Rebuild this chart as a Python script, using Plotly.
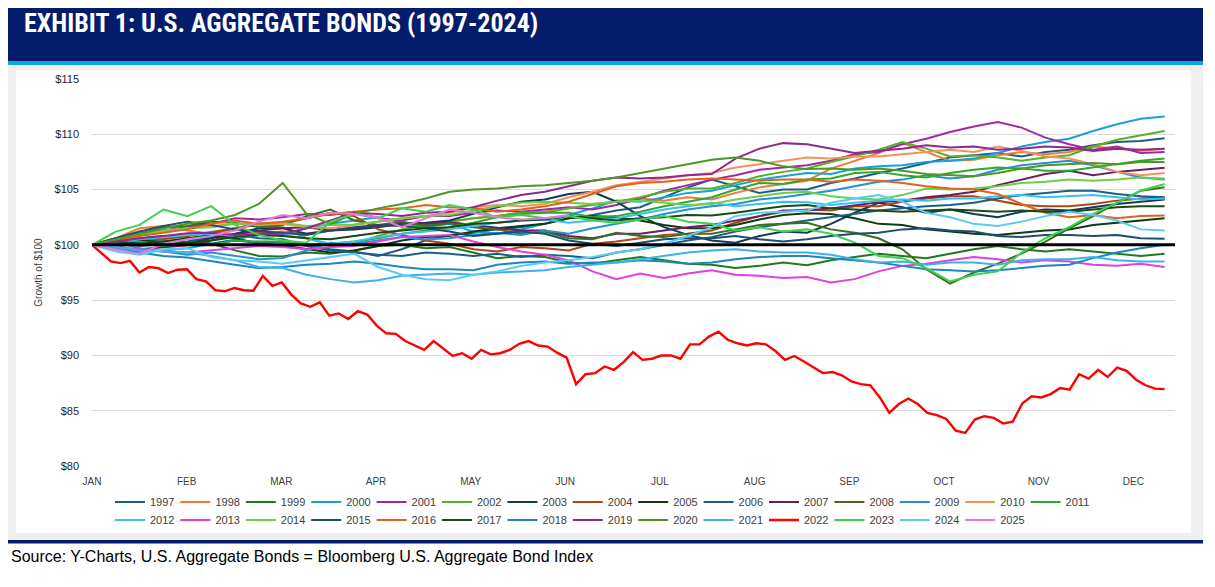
import numpy as np
import plotly.graph_objects as go

# ---------------- data ----------------
MONTHS = ["JAN", "FEB", "MAR", "APR", "MAY", "JUN", "JUL", "AUG", "SEP", "OCT", "NOV", "DEC"]
Y_TICKS = [80, 85, 90, 95, 100, 105, 110, 115]
Y_TICK_LABELS = ["$" + str(v) for v in Y_TICKS]
BASELINE = 100
YEARS = list(range(1997, 2026))

Y1997 = [100.0,100.2,99.9,100.1,100.3,100.7,100.9,100.6,100.5,99.9,99.6,99.4,99.0,99.6,100.4,100.9,101.1,101.4,101.6,101.9,102.4,102.7,103.1,103.4,104.3,105.2,105.9,105.3,104.7,105.0,105.0,105.6,106.0,106.5,106.9,107.4,107.9,108.1,108.3,108.0,108.4,108.6,109.0,109.3,109.4,109.65]
Y1998 = [100.0,100.6,101.5,101.7,101.3,101.0,101.4,101.1,101.2,101.0,101.3,101.55,101.7,101.8,101.9,102.1,102.4,102.6,102.9,103.0,103.3,103.7,103.9,104.2,104.0,104.3,104.1,104.7,105.2,105.5,105.8,106.9,107.6,108.3,109.2,108.4,107.6,107.7,108.1,108.4,108.2,108.4,108.9,108.7,108.5,108.7]
Y1999 = [100.0,100.3,100.6,100.8,100.7,100.1,99.5,99.0,98.95,99.3,99.2,99.5,99.9,100.0,99.7,99.8,99.3,98.8,99.0,98.9,98.4,98.3,98.6,98.9,98.6,98.3,98.2,97.9,98.1,98.4,98.15,98.6,98.9,99.2,99.0,98.8,99.2,99.6,99.9,99.6,99.4,99.6,99.4,99.2,99.0,99.2]
Y2000 = [100.0,99.6,99.4,99.5,99.7,100.1,100.5,100.9,100.9,101.5,101.9,102.2,102.5,102.0,101.6,101.9,101.2,101.0,101.4,101.9,102.7,103.3,104.0,103.9,104.3,104.7,104.9,105.4,105.9,106.2,106.5,106.4,106.9,107.1,107.2,107.5,107.6,107.8,108.3,108.9,109.3,109.6,110.3,110.9,111.4,111.6]
Y2001 = [100.0,100.6,101.0,101.3,101.6,101.9,102.4,102.3,102.5,102.8,102.7,103.0,102.4,102.2,102.6,102.6,102.9,103.1,103.0,103.2,103.4,103.2,103.6,104.2,104.9,105.4,105.9,106.3,106.8,107.0,107.2,107.6,108.2,108.4,109.1,109.6,110.2,110.7,111.1,110.6,109.7,109.1,108.6,108.9,108.3,108.4]
Y2002 = [100.0,100.3,100.5,100.6,100.85,101.2,101.5,101.8,101.6,100.6,100.0,100.1,100.8,101.4,101.8,102.1,102.4,102.6,102.9,102.9,103.3,103.6,103.9,104.3,104.8,105.1,105.1,105.6,106.2,106.6,106.9,107.5,108.0,108.6,109.3,108.7,108.0,108.1,107.9,107.6,107.9,108.1,108.9,109.5,109.9,110.3]
Y2003 = [100.0,99.8,100.2,100.0,100.1,100.6,101.0,101.5,101.5,101.0,101.3,101.4,101.6,101.9,102.0,102.2,102.8,103.4,103.9,104.1,104.6,104.8,103.9,102.6,101.6,100.9,100.4,100.2,100.8,101.2,101.1,101.9,102.9,103.8,103.4,102.9,103.2,102.8,102.5,103.0,103.2,103.1,103.4,103.7,103.9,104.1]
Y2004 = [100.0,100.4,100.6,100.5,100.8,101.1,101.5,101.9,101.9,102.4,102.9,102.6,101.4,100.9,100.4,100.1,99.6,99.4,99.8,99.7,99.5,100.1,100.3,100.6,100.9,101.0,101.3,102.0,102.6,103.0,103.2,103.1,103.5,103.5,103.9,104.2,104.4,104.4,104.0,103.6,103.5,103.5,103.7,104.0,104.2,104.3]
Y2005 = [100.0,100.2,100.4,100.3,100.6,100.9,100.6,100.1,99.95,99.6,99.3,99.5,99.9,100.4,100.7,100.8,101.2,101.5,101.7,101.9,102.4,102.6,102.5,102.2,101.8,101.5,101.5,101.8,102.3,102.7,102.85,102.8,102.4,101.9,101.8,101.4,101.2,101.0,100.9,101.1,101.3,101.4,101.8,102.0,102.2,102.4]
Y2006 = [100.0,100.3,100.2,99.9,100.0,100.1,100.4,100.2,100.3,99.9,99.5,99.3,99.1,99.0,99.3,99.2,99.0,99.2,98.9,99.1,99.0,98.8,99.3,99.6,100.0,100.4,100.7,101.2,101.6,101.9,102.2,102.5,102.8,103.1,103.3,103.5,103.6,103.8,104.2,104.5,104.7,104.9,104.9,104.6,104.4,104.3]
Y2007 = [100.0,99.7,99.6,99.8,99.96,100.4,100.9,101.3,101.5,101.6,101.3,101.5,101.7,102.0,101.9,102.05,101.8,101.5,101.3,101.3,100.8,100.6,101.0,101.0,101.3,101.6,101.8,102.2,102.6,103.1,103.1,103.3,103.6,103.85,104.0,104.3,104.5,104.8,105.4,105.9,106.4,106.7,106.3,106.6,106.8,106.97]
Y2008 = [100.0,100.5,101.0,101.6,101.7,102.1,102.0,101.6,101.8,102.6,103.2,102.2,101.8,102.1,101.7,101.96,101.6,101.4,101.0,101.2,100.6,100.5,101.1,100.8,100.7,101.0,101.0,101.4,101.8,101.9,102.0,101.4,101.1,100.6,99.6,97.8,96.5,97.5,98.3,99.2,100.3,101.5,102.6,103.8,104.9,105.2]
Y2009 = [100.0,100.2,99.7,99.4,99.1,99.3,99.0,98.7,98.8,99.5,100.2,100.1,100.4,100.7,100.5,100.6,100.9,101.1,100.9,101.3,101.0,101.5,101.9,102.3,102.8,103.2,103.5,103.7,104.1,104.3,104.6,104.9,105.3,105.7,105.9,106.3,106.0,106.2,106.8,107.2,107.4,107.6,107.2,106.6,106.1,105.9]
Y2010 = [100.0,100.4,100.9,101.2,101.5,101.7,101.9,101.8,101.9,101.6,101.5,101.8,102.1,102.4,102.6,102.9,103.4,103.6,103.5,103.7,104.3,104.8,105.4,105.7,106.0,106.3,106.5,107.0,107.3,107.6,107.9,107.8,108.0,108.0,108.2,108.4,108.6,108.4,108.9,108.5,108.0,107.8,107.3,106.6,106.3,106.5]
Y2011 = [100.0,100.4,100.3,99.9,100.1,100.0,100.4,100.3,100.3,100.0,100.1,100.3,100.6,101.0,101.3,101.6,102.0,102.5,102.8,102.9,102.9,102.5,102.6,103.0,103.5,103.9,104.3,105.0,105.6,105.5,105.9,106.0,106.5,106.6,106.3,106.1,106.5,106.8,107.0,106.9,106.7,106.7,107.0,107.3,107.6,107.8]
Y2012 = [100.0,100.2,100.5,100.7,100.9,101.0,100.8,100.9,100.9,100.6,100.1,100.3,100.7,101.0,101.2,101.4,101.7,102.0,102.2,102.3,102.0,102.2,102.4,102.8,103.2,103.5,103.8,103.5,103.7,103.9,103.85,103.6,103.8,104.0,104.1,104.0,104.2,104.2,104.4,104.5,104.3,104.4,104.5,104.3,104.1,104.2]
Y2013 = [100.0,99.8,99.6,99.4,99.3,99.5,99.7,99.9,99.8,99.6,99.8,99.9,100.3,100.7,100.8,100.9,100.3,99.8,99.4,99.1,98.6,97.6,96.9,97.4,97.0,97.4,97.7,97.3,97.2,97.0,97.1,96.6,96.9,97.6,98.1,98.3,98.6,98.9,98.7,98.4,98.6,98.5,98.2,98.1,98.3,98.0]
Y2014 = [100.0,100.5,100.9,101.3,101.5,101.6,101.9,101.9,102.0,101.7,101.8,101.85,102.1,102.4,102.6,102.7,103.1,103.5,103.8,103.9,103.8,103.7,103.9,104.0,103.8,103.6,103.7,104.1,104.4,104.7,104.8,104.4,104.2,104.1,104.5,105.1,105.0,105.1,105.3,105.6,105.7,105.9,105.8,105.9,106.1,106.0]
Y2015 = [100.0,100.6,101.2,101.7,102.1,101.8,101.4,101.2,101.1,100.9,101.3,101.6,101.8,101.7,101.5,101.2,100.8,101.0,101.2,101.0,100.4,100.1,99.9,100.2,100.5,100.6,100.6,100.8,100.5,100.3,100.5,100.8,101.0,101.1,101.4,101.5,101.3,101.2,100.8,100.7,100.9,100.9,100.8,100.9,100.6,100.55]
Y2016 = [100.0,100.4,100.8,101.1,101.4,101.9,102.2,101.9,102.1,102.4,102.8,103.0,103.2,103.3,103.6,103.4,103.3,103.0,103.2,103.5,103.9,104.6,105.3,105.6,105.7,105.9,106.0,105.9,105.8,105.9,105.9,105.7,105.9,105.8,105.6,105.3,105.1,105.0,104.6,103.7,102.9,102.5,102.7,102.4,102.6,102.65]
Y2017 = [100.0,100.3,100.1,100.3,100.2,100.4,100.7,100.9,100.8,100.6,100.5,100.8,101.1,101.3,101.5,101.6,101.9,102.0,102.2,102.3,102.6,102.4,102.2,102.4,102.5,102.7,102.65,102.9,103.2,103.5,103.6,103.3,103.2,103.1,103.0,103.1,103.2,103.1,103.0,103.1,103.0,103.0,103.2,103.4,103.5,103.5]
Y2018 = [100.0,99.7,99.3,99.0,98.85,98.5,98.2,97.9,98.0,98.2,98.3,98.5,98.3,98.0,97.8,97.8,97.7,98.2,98.4,98.5,98.3,98.4,98.4,98.6,98.5,98.3,98.4,98.7,98.9,99.0,99.0,98.8,98.6,98.4,98.1,97.8,97.7,97.6,97.7,97.9,98.1,98.2,98.8,99.3,99.7,100.0]
Y2019 = [100.0,100.3,100.6,100.8,101.06,101.1,100.9,101.0,101.0,101.5,102.2,102.9,102.8,102.6,102.9,103.0,103.4,104.0,104.5,104.8,105.3,105.8,106.1,106.0,106.1,106.3,106.4,107.8,108.7,109.2,109.1,108.7,108.3,108.5,108.7,109.0,108.8,108.9,108.6,108.7,108.9,108.8,108.5,108.7,108.6,108.7]
Y2020 = [100.0,100.5,101.0,101.5,101.9,102.2,102.7,103.7,105.6,102.8,101.9,102.8,103.3,103.7,104.2,104.8,105.0,105.1,105.3,105.4,105.6,105.8,106.1,106.5,106.9,107.3,107.7,107.9,107.6,107.1,106.85,106.9,106.8,106.9,106.7,106.4,106.3,106.2,106.5,106.9,107.2,107.3,107.4,107.3,107.5,107.5]
Y2021 = [100.0,99.8,99.5,99.4,99.3,99.0,98.6,98.0,97.9,97.3,96.9,96.6,96.8,97.2,97.3,97.4,97.3,97.5,97.6,97.7,98.0,98.2,98.4,98.7,99.0,99.3,99.5,99.6,99.4,99.3,99.3,99.1,98.7,98.4,98.5,98.2,98.4,98.4,98.2,98.6,98.7,98.7,98.9,98.6,98.5,98.5]
Y2022 = [100.0,99.25,98.5,98.35,98.55,97.5,98.0,97.9,97.45,97.75,
         97.8,96.9,96.7,95.9,95.8,96.1,95.9,95.85,97.2,96.3,
         96.6,95.5,94.7,94.4,94.8,93.6,93.8,93.3,94.0,93.7,
         92.7,92.0,91.95,91.3,90.9,90.5,91.3,90.6,89.95,90.2,
         89.7,90.5,90.1,90.2,90.5,91.05,91.3,90.9,90.8,90.25,
         89.8,87.4,88.3,88.4,89.0,88.7,89.4,90.3,89.6,89.7,
         90.0,90.0,89.7,91.0,91.0,91.7,92.15,91.4,91.1,90.9,
         91.1,91.0,90.4,89.6,89.95,89.45,88.9,88.4,88.5,88.2,
         87.65,87.4,87.3,86.2,84.8,85.6,86.1,85.6,84.8,84.6,
         84.25,83.2,83.0,84.2,84.5,84.35,83.85,84.0,85.65,86.3,
         86.2,86.5,87.05,86.9,88.3,87.9,88.7,88.05,88.9,88.6,
         87.8,87.3,87.0,86.95]
Y2023 = [100.0,101.2,101.8,103.2,102.6,103.5,101.8,100.9,100.4,100.2,102.1,102.8,102.4,103.3,103.0,103.6,103.2,102.5,102.7,102.4,102.6,102.2,102.0,102.3,102.6,102.1,101.9,101.3,101.6,101.2,101.4,101.0,100.2,99.0,98.8,97.9,96.7,97.3,97.6,99.3,100.6,101.6,102.8,103.8,104.9,105.5]
Y2024 = [100.0,99.4,99.1,99.6,99.7,98.9,98.6,98.5,98.3,98.6,98.9,99.2,98.0,97.3,96.9,96.8,97.3,97.6,98.1,98.4,98.6,98.9,99.3,99.6,100.1,100.8,101.6,102.6,102.9,103.0,103.1,103.8,104.2,104.5,103.9,102.9,102.5,101.9,101.7,102.1,102.6,103.0,102.7,102.2,101.4,101.3]
Y2025 = [100.0,99.6,99.2,100.1,100.5,100.8,101.3,102.1,102.7,102.4,102.9,102.8,102.5,101.6,102.4,103.2,102.9,102.5,102.3,102.4,102.7]

SERIES = {
    1997: Y1997, 1998: Y1998, 1999: Y1999, 2000: Y2000, 2001: Y2001, 2002: Y2002,
    2003: Y2003, 2004: Y2004, 2005: Y2005, 2006: Y2006, 2007: Y2007, 2008: Y2008,
    2009: Y2009, 2010: Y2010, 2011: Y2011, 2012: Y2012, 2013: Y2013, 2014: Y2014,
    2015: Y2015, 2016: Y2016, 2017: Y2017, 2018: Y2018, 2019: Y2019, 2020: Y2020,
    2021: Y2021, 2022: Y2022, 2023: Y2023, 2024: Y2024, 2025: Y2025,
}

# ---------------- styles ----------------
COLORS = {
    1997: "#1F5C85", 1998: "#F07A32", 1999: "#1E7A1E", 2000: "#17A0DB", 2001: "#A428A4",
    2002: "#58B02A", 2003: "#123A57", 2004: "#A9471A", 2005: "#0C3D12", 2006: "#1C5F86",
    2007: "#6B1E63", 2008: "#3D6E1E", 2009: "#2A8FD0", 2010: "#F4915C", 2011: "#2EA832",
    2012: "#36C0F5", 2013: "#E040E0", 2014: "#6AD04A", 2015: "#1E4E6E", 2016: "#E2611E",
    2017: "#174A17", 2018: "#1C86BE", 2019: "#8E2A8E", 2020: "#4E9626", 2021: "#3DB2EA",
    2022: "#FF0000", 2023: "#3ED04E", 2024: "#58CCF7", 2025: "#E07AD8",
}
NAVY = "#041C6C"
W, H = 1215, 587
OFF = 8                      # page body margin of the browser
PLOT_L, PLOT_R, PLOT_T, PLOT_B = 92, 1175, 79, 466   # target screen pixels
ML = PLOT_L - OFF
MR = W - (PLOT_R - OFF)
MT = PLOT_T - OFF
MB = H - (PLOT_B - OFF)
PW = W - ML - MR
PH = H - MT - MB
X_END = 11.33           # year-end position on the month-label axis
X_MAX = 11.44
FULL_WEEKLY = 45        # intervals in a full weekly year
FULL_DAILY = 113        # intervals in the denser 2022 series


def px(x):
    """screen x pixel -> paper x"""
    return (x - OFF - ML) / PW


def py(y):
    """screen y pixel -> paper y"""
    return (PLOT_B - y) / PH


fig = go.Figure()
for yr in YEARS:
    vals = SERIES[yr]
    step = X_END / (FULL_DAILY if yr == 2022 else FULL_WEEKLY)
    xs = np.arange(len(vals)) * step
    fig.add_trace(go.Scatter(
        x=xs, y=vals, mode="lines", name=str(yr),
        line=dict(color=COLORS[yr], width=2.4 if yr == 2022 else 2),
        legend="legend" if yr <= 2011 else "legend2",
        hoverinfo="skip",
    ))

fig.add_hline(y=BASELINE, line=dict(color="black", width=3), layer="above")

shapes = [
    # grey frame around chart panel
    dict(type="rect", x0=px(0), x1=px(1203), y0=py(540), y1=py(65), fillcolor="#EFEFEF"),
    # white chart panel
    dict(type="rect", x0=px(16), x1=px(1191), y0=py(533), y1=py(70), fillcolor="white"),
    # header bar
    dict(type="rect", x0=px(0), x1=px(1203), y0=py(61), y1=py(0), fillcolor=NAVY),
    dict(type="rect", x0=px(0), x1=px(1203), y0=py(65), y1=py(61), fillcolor="#0AA5DC"),
    # footer rule
    dict(type="rect", x0=px(0), x1=px(1203), y0=py(543.5), y1=py(540), fillcolor=NAVY),
]
for s in shapes:
    fig.add_shape(xref="paper", yref="paper", line=dict(width=0), layer="below", **s)

fig.add_annotation(
    text="<b>EXHIBIT 1: U.S. AGGREGATE BONDS (1997-2024)</b>",
    xref="paper", yref="paper", x=px(22), y=py(23.5), xanchor="left", yanchor="middle",
    showarrow=False,
    font=dict(family="Liberation Sans Narrow, Roboto Condensed, Arial Narrow, Roboto, Arial", size=26, color="white"),
)
fig.add_annotation(
    text="Source: Y-Charts, U.S. Aggregate Bonds = Bloomberg U.S. Aggregate Bond Index",
    xref="paper", yref="paper", x=px(9), y=py(556), xanchor="left", yanchor="middle",
    showarrow=False,
    font=dict(family="Liberation Sans, Arial", size=16, color="black"),
)

legend_common = dict(
    orientation="h", xanchor="left", yanchor="middle", x=px(110),
    entrywidth=20.4, entrywidthmode="pixels", itemwidth=30,
    font=dict(family="Liberation Sans, Arial", size=11, color="#404040"),
    bgcolor="rgba(0,0,0,0)", borderwidth=0, traceorder="normal",
)

fig.update_layout(
    width=W, height=H, autosize=False,
    margin=dict(l=ML, r=MR, t=MT, b=MB, pad=0),
    paper_bgcolor="white", plot_bgcolor="white",
    showlegend=True,
    legend=dict(**legend_common, y=py(502)),
    legend2=dict(**legend_common, y=py(520)),
    xaxis=dict(
        range=[0, X_MAX], tickmode="array", tickvals=list(range(len(MONTHS))), ticktext=MONTHS,
        showgrid=False, zeroline=False, showline=False, ticks="",
        tickfont=dict(family="Liberation Sans, Arial", size=10, color="#404040"),
        ticklabelstandoff=8, fixedrange=True,
    ),
    yaxis=dict(
        range=[80, 115], tickmode="array", tickvals=Y_TICKS, ticktext=Y_TICK_LABELS,
        showgrid=True, gridcolor="#D9D9D9", gridwidth=1, zeroline=False, showline=False, ticks="",
        tickfont=dict(family="Liberation Sans, Arial", size=11, color="#262626"),
        ticklabelstandoff=12,
        title=dict(text="Growth of $100", font=dict(family="Liberation Sans, Arial", size=10, color="#404040"), standoff=10),
        fixedrange=True,
    ),
)

fig.write_html("out.html")
